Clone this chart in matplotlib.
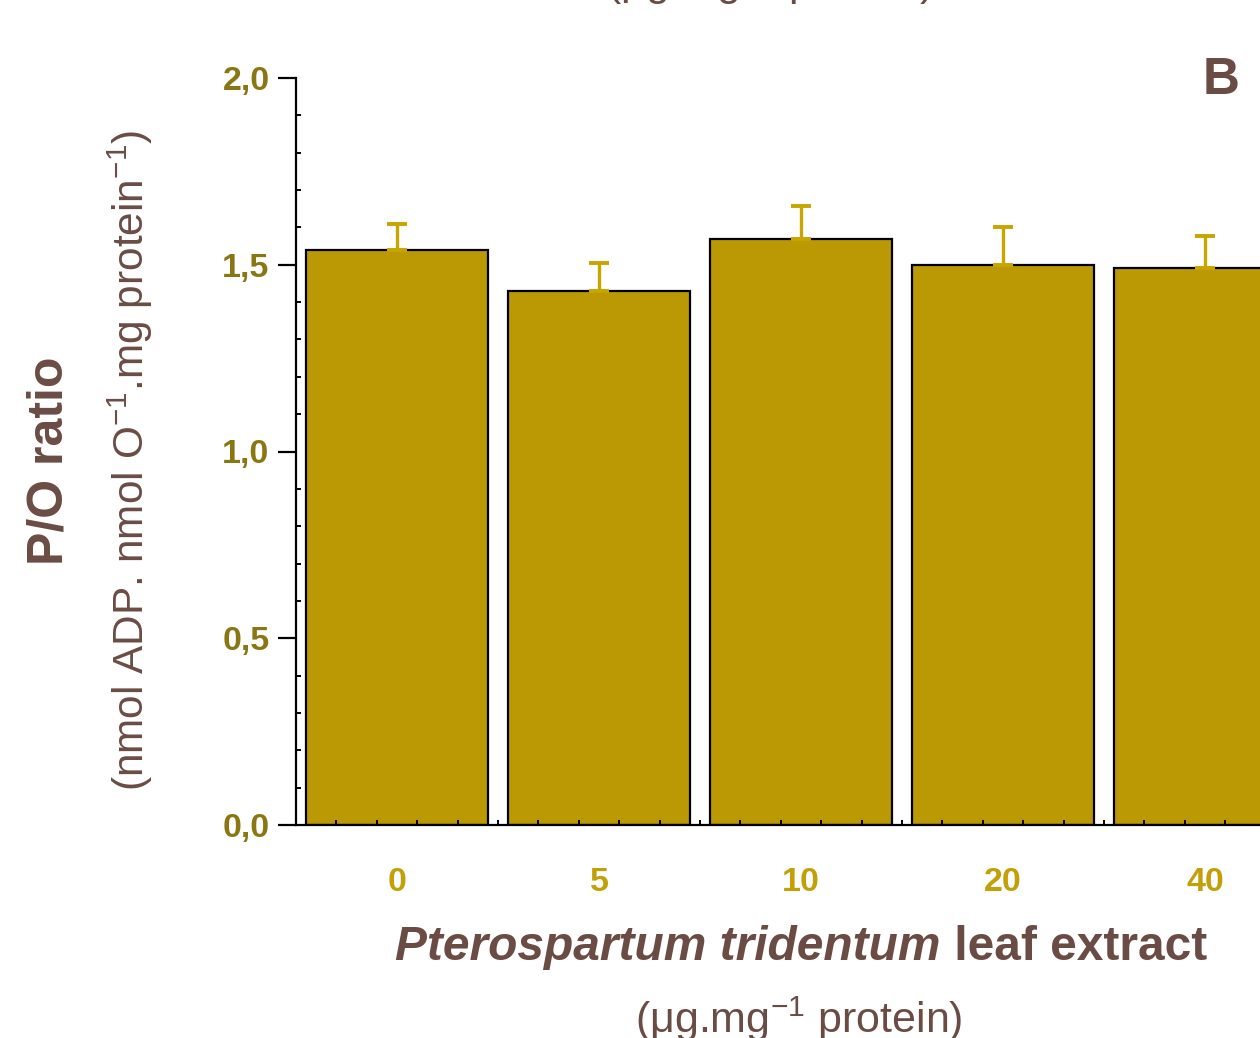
import matplotlib
matplotlib.use("Agg")
import matplotlib.pyplot as plt
import numpy as np

# ---- data ----
categories = ["0", "5", "10", "20", "40"]
po_ratio = [1.54, 1.43, 1.57, 1.50, 1.49]
po_err = [0.07, 0.075, 0.088, 0.10, 0.086]
y_ticks = [0.0, 0.5, 1.0, 1.5, 2.0]
y_tick_labels = ["0,0", "0,5", "1,0", "1,5", "2,0"]

plt.rcParams['font.family'] = ['Liberation Sans', 'DejaVu Sans']
plt.rcParams['mathtext.fontset'] = 'custom'
plt.rcParams['mathtext.rm'] = 'Liberation Sans'
plt.rcParams['mathtext.it'] = 'Liberation Sans:italic'
plt.rcParams['mathtext.bf'] = 'Liberation Sans:bold'

BAR = '#BA9905'
ERR = '#C9A500'
YTXT = '#8A7714'
XTXT = '#C4A008'
BROWN = '#6B4C44'

W, H = 1260, 1038
fig = plt.figure(figsize=(W / 100, H / 100), dpi=100)
ax = fig.add_axes([296 / W, (H - 825) / H, 1010 / W, (825 - 78) / H])

x = np.arange(len(categories))
ax.bar(x, po_ratio, width=0.9, color=BAR, edgecolor='black', linewidth=1.6, zorder=1)
ax.errorbar(x, po_ratio, yerr=[np.zeros(len(po_err)), po_err], fmt='none',
            ecolor=ERR, elinewidth=2.4, capsize=7, capthick=2.8, zorder=1.2)

ax.set_xlim(-0.5, 4.5)
ax.set_ylim(0, 2.0)
for s in ['top', 'right']:
    ax.spines[s].set_visible(False)
for s in ['left', 'bottom']:
    ax.spines[s].set_linewidth(1.6)
    ax.spines[s].set_zorder(3)

ax.set_yticks(y_ticks)
ax.set_yticklabels(y_tick_labels, fontsize=24.5, fontweight='bold', color=YTXT)
ax.set_yticks(np.arange(0, 2.0001, 0.1), minor=True)
ax.tick_params(axis='y', which='major', direction='out', length=13, width=1.6, pad=6)
ax.tick_params(axis='y', which='minor', direction='in', length=3.5, width=1.4)

ax.set_xticks(x)
ax.set_xticklabels(categories, fontsize=24.5, fontweight='bold', color=XTXT)
ax.set_xticks(np.arange(-0.5, 4.51, 0.2), minor=True)
ax.tick_params(axis='x', which='major', length=0, pad=30)
ax.tick_params(axis='x', which='minor', direction='in', length=3.5, width=1.4)

# y labels
fig.text(50 / W, 1 - 461 / H, "P/O ratio", rotation=90, ha='center', va='center',
         fontsize=36, fontweight='bold', color=BROWN)
fig.text(130 / W, 1 - 460 / H, r"(nmol ADP. nmol O$^{-1}$.mg protein$^{-1}$)", rotation=90,
         ha='center', va='center', fontsize=30.5, color=BROWN)

# x label (mixed italic / bold)
fig.canvas.draw()
r = fig.canvas.get_renderer()
t1 = fig.text(0, 1 - 960 / H, "Pterospartum tridentum", fontsize=34.5, fontweight='bold',
              fontstyle='italic', color=BROWN, va='baseline', ha='left')
t2 = fig.text(0, 1 - 960 / H, " leaf extract", fontsize=34.5, fontweight='bold',
              color=BROWN, va='baseline', ha='left')
w1 = t1.get_window_extent(r).width
w2 = t2.get_window_extent(r).width
start = 801 - (w1 + w2) / 2
t1.set_x(start / W)
t2.set_x((start + w1) / W)

fig.text(799 / W, 1 - 1033 / H, r"($\mathrm{\mu}$g.mg$^{-1}$ protein)", ha='center', va='baseline',
         fontsize=31, color=BROWN)

# top cut-off label
fig.text(770 / W, 1 + 4 / H, r"($\mathrm{\mu}$g.mg$^{-1}$ protein)", ha='center', va='baseline',
         fontsize=31, color=BROWN)

# panel letter
fig.text(1221 / W, 1 - 80 / H, "B", ha='center', va='center', fontsize=37,
         fontweight='bold', color=BROWN)

fig.savefig("out.png", dpi=100)
